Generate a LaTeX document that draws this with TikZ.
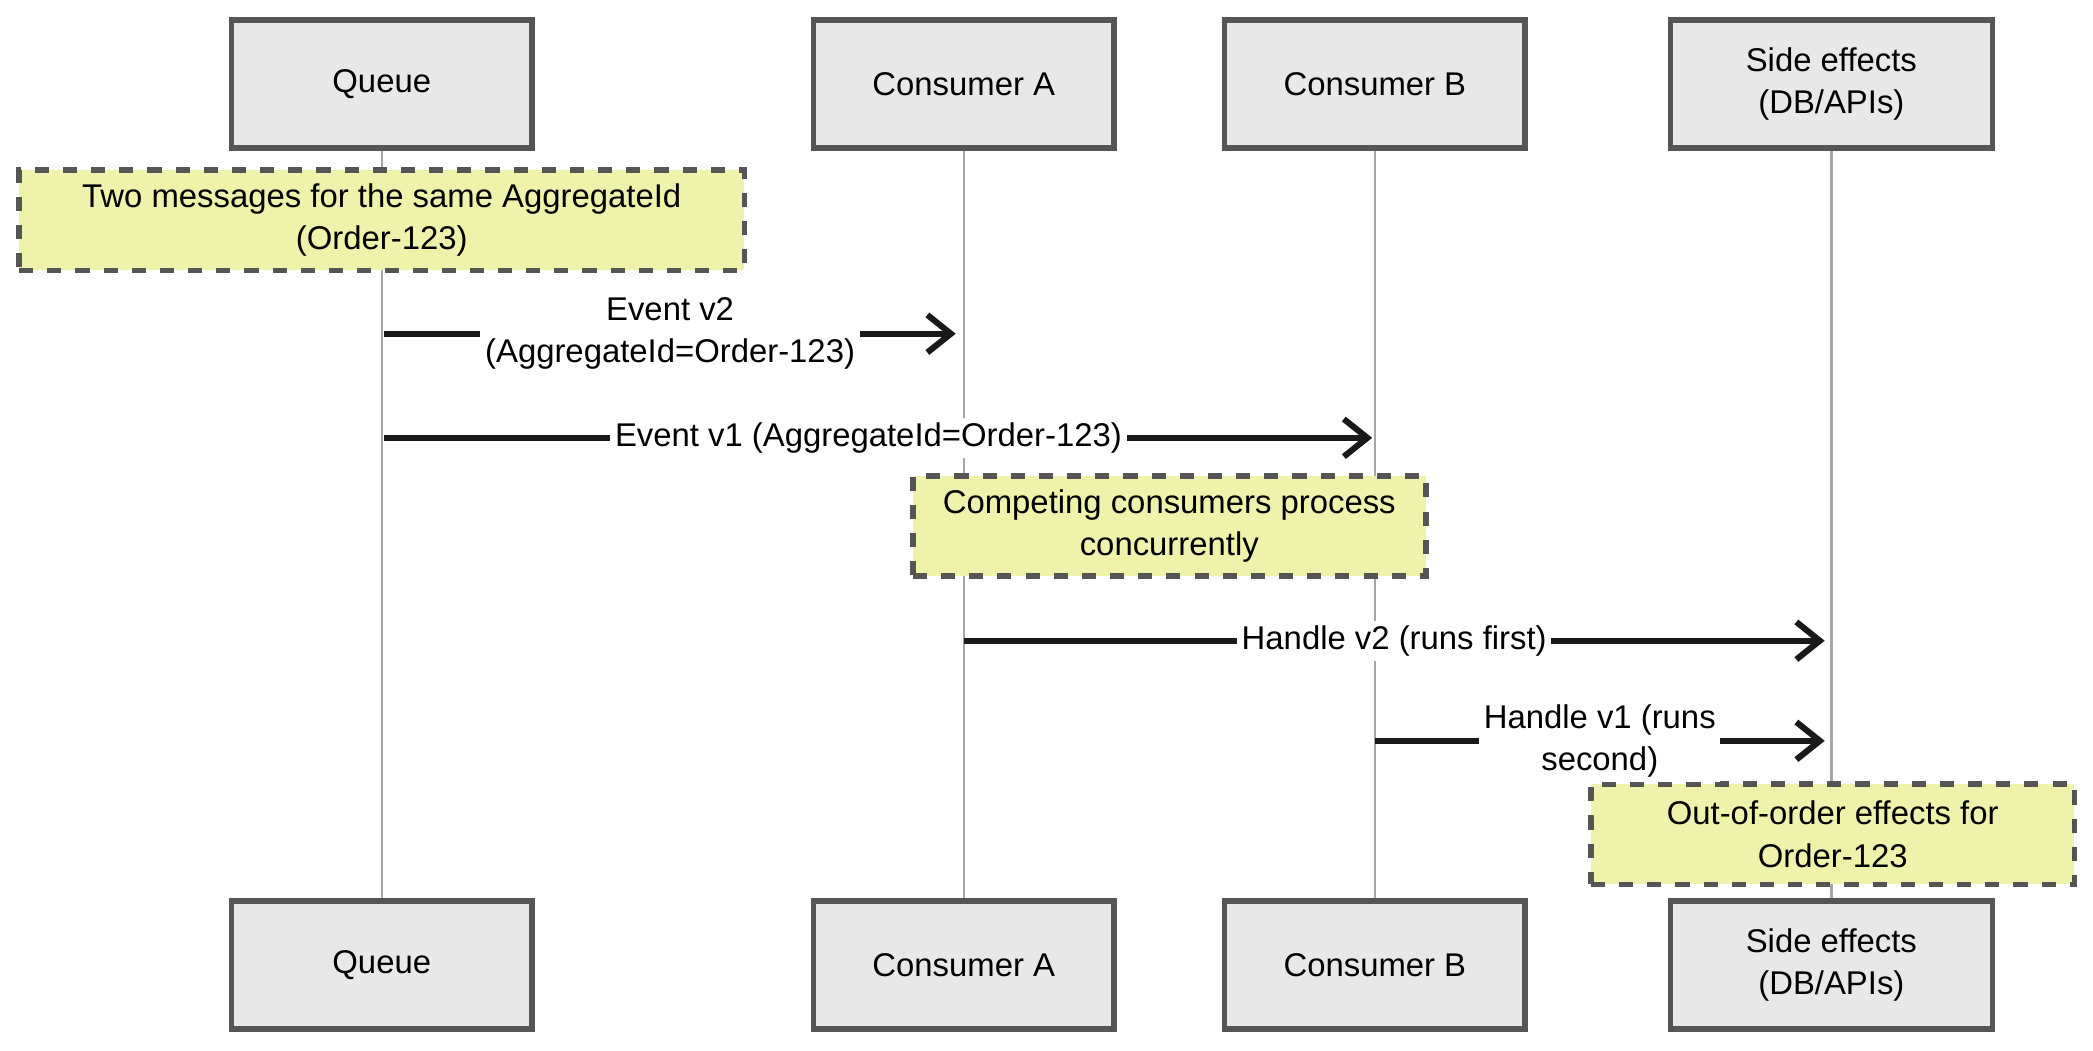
\documentclass[tikz,border=0pt]{standalone}
\usepackage{fontspec}
\setmainfont{Liberation Sans}
\usetikzlibrary{arrows.meta}
\definecolor{boxfill}{HTML}{E8E8E8}
\definecolor{boxline}{HTML}{555555}
\definecolor{notefill}{HTML}{EEF2AA}
\begin{document}
\begin{tikzpicture}[x=0.01cm,y=-0.01cm,
  every node/.style={font=\fontsize{7}{9}\selectfont},
  actor/.style={draw=boxline,fill=boxfill,line width=1.2pt,minimum width=2.25cm,minimum height=0.96cm,align=center},
  note/.style={draw=boxline,fill=notefill,dashed,line width=1.2pt,align=center,inner sep=0pt},
  life/.style={draw=gray!70,line width=0.5pt},
  msg/.style={draw=black!90,line width=1.3pt,-{Straight Barb[length=5pt,width=8pt]}},
  lbl/.style={fill=white,inner sep=1pt,align=center}]
\useasboundingbox (0,0) rectangle (1568,787);
\node[actor] (qt) at (286,63) {Queue};
\node[actor] (at) at (722,63) {Consumer A};
\node[actor] (bt) at (1030,63) {Consumer B};
\node[actor,minimum width=2.41cm] (st) at (1372,63) {Side effects\\(DB/APIs)};
\node[actor] (qb) at (286,723) {Queue};
\node[actor] (ab) at (722,723) {Consumer A};
\node[actor] (bb) at (1030,723) {Consumer B};
\node[actor,minimum width=2.41cm] (sb) at (1372,723) {Side effects\\(DB/APIs)};
\begin{scope}[on background layer/.style={}]
\draw[life] (qt) -- (qb);
\draw[life] (at) -- (ab);
\draw[life] (bt) -- (bb);
\draw[life] (st) -- (sb);
\end{scope}
\node[note,minimum width=5.43cm,minimum height=0.75cm] (n1) at (286,165) {Two messages for the same AggregateId\\(Order-123)};
\node[note,minimum width=3.84cm,minimum height=0.75cm] (n2) at (876,394) {Competing consumers process\\concurrently};
\node[note,minimum width=3.62cm,minimum height=0.75cm] (n3) at (1373,625) {Out-of-order effects for\\Order-123};
\coordinate (q1) at (288,250); \coordinate (a1) at (716,250);
\draw[msg] (q1) -- node[lbl] {Event v2\\(AggregateId=Order-123)} (a1);
\coordinate (q2) at (288,328); \coordinate (b2) at (1028,328);
\draw[msg] (q2) -- node[lbl,pos=0.49] {Event v1 (AggregateId=Order-123)} (b2);
\coordinate (a3) at (722,480); \coordinate (s3) at (1367,480);
\draw[msg] (a3) -- node[lbl,pos=0.5] {Handle v2 (runs first)} (s3);
\coordinate (b4) at (1030,555); \coordinate (s4) at (1367,555);
\draw[msg] (b4) -- node[lbl,pos=0.5] {Handle v1 (runs\\second)} (s4);
\end{tikzpicture}
\end{document}
